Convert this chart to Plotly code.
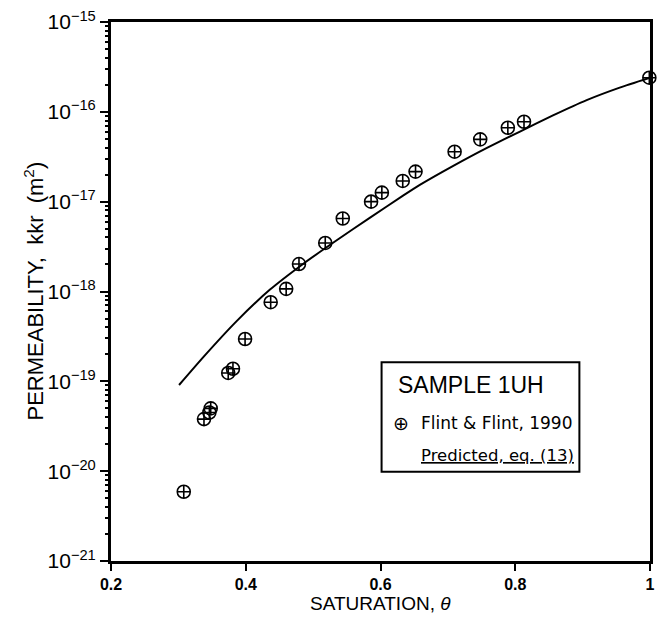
import plotly.graph_objects as go

# Measured data (Flint & Flint, 1990)
saturation = [0.308, 0.338, 0.346, 0.348, 0.374, 0.381, 0.399, 0.437, 0.460, 0.479,
              0.518, 0.544, 0.586, 0.602, 0.633, 0.652, 0.710, 0.748, 0.789, 0.813, 0.999]
permeability = [5.9e-21, 3.8e-20, 4.5e-20, 5.0e-20, 1.24e-19, 1.38e-19, 2.96e-19, 7.6e-19,
                1.07e-18, 2.02e-18, 3.47e-18, 6.5e-18, 1.0e-17, 1.26e-17, 1.70e-17,
                2.16e-17, 3.6e-17, 4.94e-17, 6.65e-17, 7.76e-17, 2.4e-16]

# Predicted curve, eq. (13)
pred_sat = [0.301, 0.337, 0.3865, 0.436, 0.4855, 0.535, 0.584, 0.634, 0.659, 0.708,
            0.758, 0.807, 0.856, 0.906, 0.955, 1.0]
pred_perm = [9.1e-20, 1.86e-19, 4.68e-19, 1.05e-18, 2.04e-18, 3.72e-18, 6.6e-18, 1.175e-17,
             1.55e-17, 2.51e-17, 3.98e-17, 6.03e-17, 9.12e-17, 1.35e-16, 1.86e-16, 2.4e-16]

x_ticks = [0.2, 0.4, 0.6, 0.8, 1.0]
x_tick_labels = ["0.2", "0.4", "0.6", "0.8", "1"]
y_exponents = [-21, -20, -19, -18, -17, -16, -15]
y_ticks = [10.0 ** e for e in y_exponents]
y_tick_labels = ["10<sup>−%d</sup>" % (-e) for e in y_exponents]
y_minor_ticks = [m * 10.0 ** e for e in y_exponents[:-1] for m in range(2, 10)]

FONT = "Liberation Sans, Arial, sans-serif"
LEG_FONT = "DejaVu Sans, sans-serif"

fig = go.Figure()
fig.add_trace(go.Scatter(
    x=pred_sat, y=pred_perm, mode="lines",
    line=dict(color="black", width=2, shape="spline", smoothing=0.5),
    showlegend=False, hoverinfo="skip"))
fig.add_trace(go.Scatter(
    x=saturation, y=permeability, mode="markers",
    marker=dict(symbol="circle-cross-open", size=13, color="black",
                line=dict(width=1.6, color="black")),
    cliponaxis=False, showlegend=False))
# minor-tick carrier on an overlaying axis (invisible markers)
fig.add_trace(go.Scatter(
    x=saturation, y=permeability, yaxis="y2", mode="markers",
    marker=dict(opacity=0), showlegend=False, hoverinfo="skip"))

fig.update_layout(
    xaxis=dict(
        range=[0.2, 1.0], tickvals=x_ticks, ticktext=x_tick_labels,
        ticks="outside", ticklen=7, tickwidth=2, tickcolor="black",
        showline=True, linewidth=3, linecolor="black", mirror=True,
        showgrid=False, zeroline=False, automargin=False,
        tickfont=dict(family=FONT, size=16, color="black", weight="bold")),
    yaxis=dict(
        type="log", range=[-21, -15], tickvals=y_ticks, ticktext=y_tick_labels,
        ticks="outside", ticklen=8, tickwidth=2, tickcolor="black",
        showline=True, linewidth=3, linecolor="black", mirror=True,
        showgrid=False, zeroline=False, automargin=False,
        tickfont=dict(family=FONT, size=21, color="black")),
    yaxis2=dict(
        type="log", range=[-21, -15], overlaying="y", side="left", anchor="x",
        tickmode="array", tickvals=y_minor_ticks, showticklabels=False,
        ticks="outside", ticklen=5, tickwidth=1.5, tickcolor="black",
        showline=False, showgrid=False, zeroline=False, automargin=False),
)

# Axis titles
fig.add_annotation(xref="paper", yref="paper", x=0.5, y=0, yshift=-42,
                   text="SATURATION, <i>θ</i>", showarrow=False,
                   font=dict(family=FONT, size=19, color="black"),
                   xanchor="center", yanchor="middle")
fig.add_annotation(xref="paper", yref="paper", x=0, y=0.5, xshift=-78, textangle=-90,
                   text="PERMEABILITY,  kkr  (m<sup>2</sup>)", showarrow=False,
                   font=dict(family=FONT, size=22, color="black"),
                   xanchor="center", yanchor="middle")

# Legend box
fig.add_shape(type="rect", xref="paper", yref="paper",
              x0=0.502, x1=0.869, y0=0.1657, y1=0.3687,
              line=dict(color="black", width=2), fillcolor="white", layer="below")
fig.add_annotation(xref="paper", yref="paper", x=0.668, y=0.3265, text="SAMPLE 1UH",
                   showarrow=False, font=dict(family=FONT, size=23, color="black"),
                   xanchor="center", yanchor="middle")
fig.add_annotation(xref="paper", yref="paper", x=0.538, y=0.256, text="⊕",
                   showarrow=False, font=dict(family="DejaVu Sans", size=19, color="black"),
                   xanchor="center", yanchor="middle")
fig.add_annotation(xref="paper", yref="paper", x=0.571, y=0.256, text="Flint & Flint, 1990",
                   showarrow=False, font=dict(family=LEG_FONT, size=17, color="black"),
                   xanchor="left", yanchor="middle")
fig.add_annotation(xref="paper", yref="paper", x=0.863, y=0.195, text="<u>Predicted, eq. (13)</u>",
                   showarrow=False, font=dict(family=LEG_FONT, size=16.5, color="black"),
                   xanchor="right", yanchor="middle")

fig.update_layout(
    width=662, height=621,
    margin=dict(l=111, r=12, t=22, b=60),
    plot_bgcolor="white", paper_bgcolor="white",
    showlegend=False)

fig.write_html("out.html")
